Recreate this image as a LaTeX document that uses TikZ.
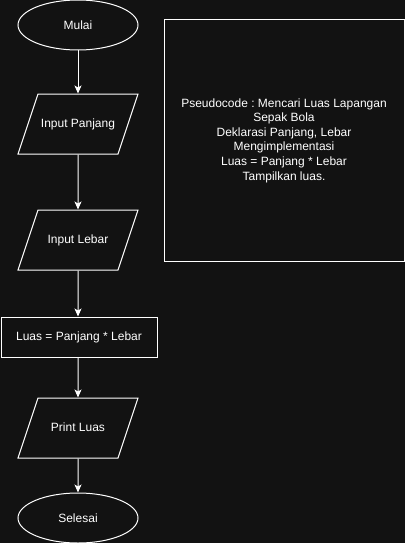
\documentclass[tikz,border=0pt]{standalone}
\usepackage{fontspec}
\setmainfont{Liberation Sans}
\usetikzlibrary{shapes.geometric,arrows.meta}
\definecolor{latar}{RGB}{18,18,18}
\frenchspacing
\begin{document}
\begin{tikzpicture}[x=1pt,y=-1pt,
    every node/.style={text=white,font=\fontsize{12}{14.6}\selectfont},
    garis/.style={draw=white,line width=1pt},
    terminal/.style={garis,ellipse,minimum width=120pt,minimum height=50pt,inner sep=0pt},
    masukan/.style={garis,trapezium,trapezium left angle=71.57,trapezium right angle=108.43,
      trapezium stretches body=true,text height=8.5pt,text depth=2.5pt,
      inner xsep=0pt,inner ysep=24.5pt,minimum width=120pt},
    proses/.style={garis,rectangle,minimum width=156pt,minimum height=40pt,inner sep=0pt},
    panah/.style={garis,-{Stealth[length=8pt,width=7pt,inset=2pt]}}]
      \fill[latar] (0,0) rectangle (405,543);
      \useasboundingbox (0,0) rectangle (405,543);

      % Bentuk diagram alir
      \node[terminal] (mulai) at (78,25) {Mulai};
      \node[masukan] (panjang) at (78,124) {Input Panjang};
      \node[masukan] (lebar) at (78,240) {Input Lebar};
      \node[proses] (luas) at (79,337) {Luas = Panjang * Lebar};
      \node[masukan] (cetak) at (78,428) {Print Luas};
      \node[terminal] (selesai) at (78,518) {Selesai};

      % Panah
      \draw[panah] (mulai) -- (panjang);
      \draw[panah] (panjang) -- (lebar);
      \draw[panah] (lebar) -- (luas.north -| lebar.south);
      \draw[panah] (luas.south -| cetak.north) -- (cetak);
      \draw[panah] (cetak) -- (selesai);

      % Keterangan
      \node[garis,minimum width=240pt,minimum height=241pt,align=center] (pseudo) at (284,140.5)
        {Pseudocode : Mencari Luas Lapangan\\Sepak Bola\\Deklarasi Panjang, Lebar\\Mengimplementasi\\Luas = Panjang * Lebar\\Tampilkan luas.};
    \end{tikzpicture}
\end{document}
